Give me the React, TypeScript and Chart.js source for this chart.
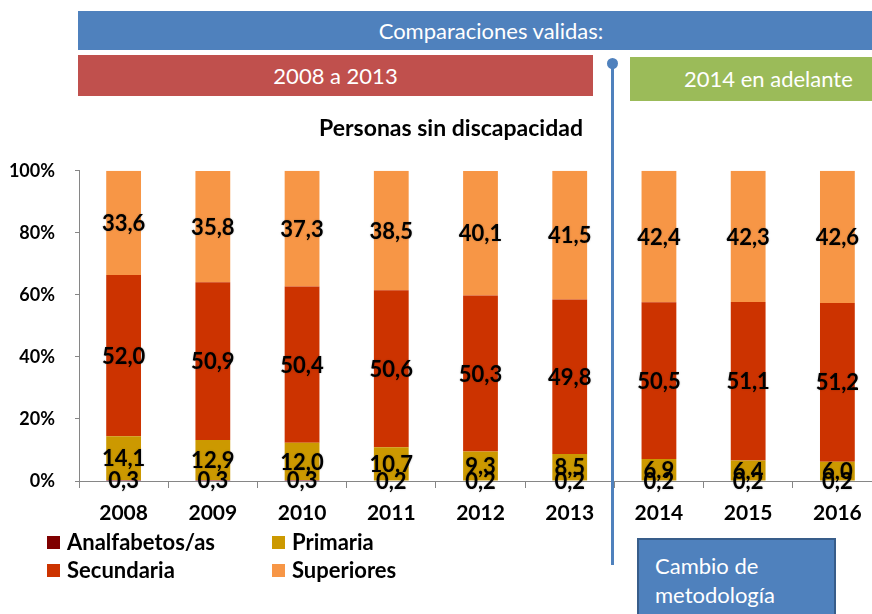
import React, { useEffect, useRef } from "react";
import { Chart, registerables } from "chart.js";

Chart.register(...registerables);

const years = ["2008", "2009", "2010", "2011", "2012", "2013", "2014", "2015", "2016"];
const analfabetos = [0.3, 0.3, 0.3, 0.2, 0.2, 0.2, 0.2, 0.2, 0.2];
const primaria = [14.1, 12.9, 12.0, 10.7, 9.3, 8.5, 6.9, 6.4, 6.0];
const secundaria = [52.0, 50.9, 50.4, 50.6, 50.3, 49.8, 50.5, 51.1, 51.2];
const superiores = [33.6, 35.8, 37.3, 38.5, 40.1, 41.5, 42.4, 42.3, 42.6];
const seriesNames = ["Analfabetos/as", "Primaria", "Secundaria", "Superiores"];
const seriesColors = ["#7F0000", "#CC9900", "#CC3300", "#F79646"];
const chartTitle = "Personas sin discapacidad";
const bannerTop = "Comparaciones validas:";
const bannerLeft = "2008 a 2013";
const bannerRight = "2014 en adelante";
const noteLines = ["Cambio de", "metodología"];

const FONT = "Lato, 'Open Sans', sans-serif";

const fmt = (v: number) => v.toFixed(1).replace(".", ",");

const segLabels = {
  id: "segLabels",
  afterDatasetsDraw(chart: any) {
    const ctx = chart.ctx;
    ctx.save();
    ctx.font = "bold 22px " + FONT;
    ctx.fillStyle = "#000";
    ctx.textAlign = "center";
    ctx.textBaseline = "middle";
    ctx.shadowColor = "rgba(0,0,0,0.25)";
    ctx.shadowBlur = 2;
    chart.data.datasets.forEach((ds: any, i: number) => {
      const meta = chart.getDatasetMeta(i);
      meta.data.forEach((bar: any, j: number) => {
        const p = bar.getProps(["x", "y", "base"], true);
        ctx.fillText(fmt(ds.data[j]), p.x, (p.y + p.base) / 2 + 1);
      });
    });
    ctx.restore();
  },
};

export default function App() {
  const ref = useRef<HTMLCanvasElement>(null);

  useEffect(() => {
    if (!ref.current) return;
    const data = [analfabetos, primaria, secundaria, superiores];
    const chart = new Chart(ref.current, {
      type: "bar",
      data: {
        labels: years,
        datasets: data.map((d, i) => ({
          label: seriesNames[i],
          data: d,
          backgroundColor: seriesColors[i],
          borderWidth: 0,
          barPercentage: 0.39,
          categoryPercentage: 1,
        })),
      },
      options: {
        animation: false,
        responsive: false,
        devicePixelRatio: 1,
        layout: { padding: { top: 11, left: 0, right: 0, bottom: 0 } },
        plugins: {
          legend: { display: false },
          tooltip: { enabled: false },
          title: { display: false },
        },
        scales: {
          x: {
            stacked: true,
            afterFit: (s: any) => {
              s.height = 49;
            },
            grid: {
              display: true,
              drawOnChartArea: false,
              drawTicks: true,
              tickLength: 7,
              color: "#868686",
              offset: true,
            },
            border: { display: true, color: "#868686", width: 1 },
            ticks: {
              color: "#000",
              font: { family: FONT, size: 21, weight: "bold" },
              padding: 13,
            },
          },
          y: {
            stacked: true,
            min: 0,
            max: 100,
            afterFit: (s: any) => {
              s.width = 79;
            },
            grid: {
              display: true,
              drawOnChartArea: false,
              drawTicks: true,
              tickLength: 4,
              color: "#868686",
            },
            border: { display: true, color: "#868686", width: 1 },
            ticks: {
              stepSize: 20,
              color: "#000",
              font: { family: FONT, size: 18, weight: "bold" },
              padding: 20,
              callback: (v: any) => v + "%",
            },
          },
        },
      },
      plugins: [segLabels],
    });
    return () => chart.destroy();
  }, []);

  const abs = (o: React.CSSProperties): React.CSSProperties => ({ position: "absolute", ...o });

  return (
    <div
      style={abs({
        left: 0,
        top: 0,
        width: 872,
        height: 614,
        overflow: "hidden",
        background: "#fff",
        fontFamily: FONT,
      })}
    >
      <canvas ref={ref} width={882} height={390} style={abs({ left: 0, top: 140, width: 882, height: 390 })} />

      <div
        style={abs({
          left: 78,
          top: 11,
          width: 794,
          height: 39,
          background: "#4F81BD",
          color: "#fff",
          fontSize: 22,
          lineHeight: "39px",
          textAlign: "center",
        })}
      >
        <span style={{ position: "relative", left: 16 }}>{bannerTop}</span>
      </div>
      <div
        style={abs({
          left: 78,
          top: 55,
          width: 515,
          height: 41,
          background: "#C0504D",
          color: "#fff",
          fontSize: 22,
          lineHeight: "41px",
          textAlign: "center",
        })}
      >
        {bannerLeft}
      </div>
      <div
        style={abs({
          left: 630,
          top: 57,
          width: 242,
          height: 44,
          background: "#9BBB59",
          color: "#fff",
          fontSize: 22,
          lineHeight: "44px",
          paddingLeft: 54,
          boxSizing: "border-box",
          whiteSpace: "nowrap",
        })}
      >
        {bannerRight}
      </div>

      <div
        style={abs({
          left: 251,
          top: 113,
          width: 400,
          textAlign: "center",
          fontWeight: "bold",
          fontSize: 23,
          color: "#000",
        })}
      >
        {chartTitle}
      </div>

      <div style={abs({ left: 611, top: 63, width: 3, height: 502, background: "#4F81BD" })} />
      <div
        style={abs({
          left: 607,
          top: 58,
          width: 11,
          height: 11,
          borderRadius: "50%",
          background: "#4F81BD",
        })}
      />

      <div
        style={abs({
          left: 637,
          top: 538,
          width: 199,
          height: 90,
          background: "#4F81BD",
          border: "2px solid #385D8A",
          boxSizing: "border-box",
          color: "#fff",
          fontSize: 22,
          lineHeight: "29px",
          paddingLeft: 16,
          paddingTop: 11,
        })}
      >
        <div>{noteLines[0]}</div>
        <div>{noteLines[1]}</div>
      </div>

      {seriesNames.map((name, i) => {
        const col = i % 2;
        const row = Math.floor(i / 2);
        const sx = col === 0 ? 47 : 272;
        const cy = row === 0 ? 543 : 571;
        return (
          <React.Fragment key={name}>
            <div style={abs({ left: sx, top: cy - 7, width: 13, height: 13, background: seriesColors[i] })} />
            <div
              style={abs({
                left: sx + 20,
                top: cy - 14,
                height: 26,
                lineHeight: "26px",
                fontSize: 22,
                fontWeight: "bold",
                color: "#000",
                whiteSpace: "nowrap",
              })}
            >
              {name}
            </div>
          </React.Fragment>
        );
      })}
    </div>
  );
}
